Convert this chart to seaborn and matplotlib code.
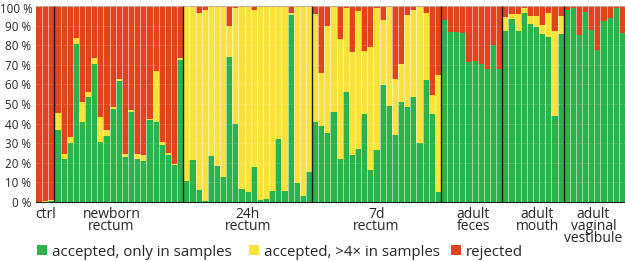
import numpy as np
import pandas as pd
import matplotlib
matplotlib.use("Agg")
import matplotlib.pyplot as plt
from matplotlib.patches import Patch
from matplotlib.transforms import blended_transform_factory, ScaledTranslation
import seaborn as sns

# ---------------- data (percent of reads) ----------------
groups = ["ctrl", "newborn\nrectum", "24h\nrectum", "7d\nrectum",
          "adult\nfeces", "adult\nmouth", "adult\nvaginal\nvestibule"]

ctrl_green = [0, 0, 0.3]
ctrl_yellow = [0, 0.5, 0.5]

newborn_green = [36.9, 21.7, 30.2, 80.7, 40.7, 53.6, 70.5, 30.5, 33.9, 47.5, 61.7,
                 23.1, 46.1, 22.0, 21.0, 41.7, 40.8, 29.3, 24.2, 18.8, 72.2]
newborn_yellow = [8.5, 2.7, 2.8, 3.0, 10.1, 2.5, 2.9, 12.9, 2.7, 1.0, 1.0,
                  1.3, 0.7, 2.4, 2.9, 0.8, 26.0, 1.4, 0.6, 0.7, 1.4]

h24_green = [10.7, 21.4, 6.1, 0.5, 23.7, 18.3, 12.9, 74.2, 40.0, 6.4, 5.1,
             18.0, 1.0, 1.7, 5.4, 32.2, 5.4, 95.6, 9.8, 3.0, 15.3]
h24_yellow = [89.3, 78.3, 90.5, 97.5, 75.6, 81.0, 86.8, 15.6, 59.0, 93.3, 94.6,
              80.0, 98.7, 97.6, 94.3, 67.5, 94.3, 1.0, 89.9, 96.7, 84.4]

d7_green = [40.7, 39.0, 35.0, 45.8, 22.0, 56.0, 24.1, 26.8, 45.1, 16.3, 26.4,
            59.7, 48.8, 34.2, 51.2, 48.5, 53.6, 30.2, 62.0, 45.1, 5.3]
d7_yellow = [55.3, 26.8, 54.8, 53.5, 61.4, 43.0, 52.2, 70.5, 31.9, 63.0, 72.6,
             33.2, 50.5, 28.8, 19.0, 46.8, 44.4, 69.5, 34.3, 9.3, 59.3]

feces_green = [92.7, 86.6, 86.9, 86.3, 71.4, 71.7, 70.4, 68.0, 79.9, 68.0]
feces_yellow = [0, 0, 0, 0, 0, 0, 0, 0, 0, 0]

mouth_green = [87.5, 93.2, 87.5, 96.3, 90.8, 89.2, 85.8, 84.0, 44.0, 85.8]
mouth_yellow = [7.1, 2.8, 8.5, 2.7, 4.2, 5.8, 4.7, 12.6, 43.1, 9.2]

vagina_green = [98.0, 99.0, 85.4, 97.0, 87.8, 77.6, 92.5, 93.9, 99.0, 86.4]
vagina_yellow = [0, 0, 0, 0, 0, 0, 0, 0, 0, 0]

legend_labels = ["accepted, only in samples", "accepted, >4× in samples", "rejected"]

GREEN = "#2bb34b"
YELLOW = "#f9e23c"
RED = "#e2431c"

# ---------------- table ----------------
greens = [ctrl_green, newborn_green, h24_green, d7_green, feces_green, mouth_green, vagina_green]
yellows = [ctrl_yellow, newborn_yellow, h24_yellow, d7_yellow, feces_yellow, mouth_yellow, vagina_yellow]
rows = []
for gi, (g, gl, yl) in enumerate(zip(groups, greens, yellows)):
    for i, (gv, yv) in enumerate(zip(gl, yl)):
        rows.append({"bar": f"{gi}_{i}", "group": g, "green": gv, "yellow": yv,
                     "red": 100 - gv - yv})
df = pd.DataFrame(rows)
df["accepted"] = df["green"] + df["yellow"]
df["total"] = df["accepted"] + df["red"]
order = list(df["bar"])
n = len(order)

# ---------------- figure ----------------
sns.set_theme(style="white")
plt.rcParams["font.family"] = ["Open Sans", "DejaVu Sans"]
plt.rcParams["font.size"] = 9

W, H = 625, 261
fig = plt.figure(figsize=(W / 100, H / 100), dpi=100)
ax = fig.add_axes([36 / W, 1 - 202 / H, 589 / W, 196 / H])

common = dict(data=df, x="bar", order=order, width=1, linewidth=0,
              saturation=1, errorbar=None, ax=ax)
sns.barplot(y="total", color=RED, **common)
sns.barplot(y="accepted", color=YELLOW, **common)
sns.barplot(y="green", color=GREEN, **common)

ax.set_xlim(-0.5, n - 0.5)
ax.set_ylim(0, 100)

# faint grid on top of bars
ax.hlines(np.arange(10, 100, 10), -0.5, n - 0.5, colors="white", alpha=0.35,
          linestyles=(0, (1, 2)), linewidth=0.6, zorder=3)
ax.axhline(100, color="#bbbbbb", linewidth=0.6, zorder=3)

# separators between bars and between groups
sizes = [len(g) for g in greens]
bounds = np.cumsum(sizes)[:-1] - 0.5
inner = [i + 0.5 for i in range(n - 1) if (i + 0.5) not in set(bounds)]
ax.vlines(inner, 0, 100, colors="white", alpha=0.55, linewidth=0.7, zorder=3)
ax.vlines(bounds, 0, 100, colors="#1a1a1a", linewidth=1.0, zorder=4)

# axes styling
ax.set_yticks(np.arange(0, 101, 10))
ax.set_yticklabels([f"{v} %" for v in range(0, 101, 10)], fontsize=8.4)
ax.tick_params(axis="y", length=2.5, width=0.6, pad=1, color="#444444")
top_lab = ax.get_yticklabels()[-1]
top_lab.set_transform(top_lab.get_transform()
                      + ScaledTranslation(0.8 / 72, -1.5 / 72, fig.dpi_scale_trans))
ax.set_xticks([])
ax.set_xlabel("")
ax.set_ylabel("")
for s in ["top", "right", "left"]:
    ax.spines[s].set_visible(False)
ax.spines["bottom"].set_color("#222222")
ax.spines["bottom"].set_linewidth(0.8)

# group labels (small horizontal nudges, in bar widths, as in the original layout)
label_nudge = [0, -1.2, 0, 0, 0.3, 0.7, -0.15]
trans = blended_transform_factory(ax.transData, ax.transAxes)
starts = np.concatenate([[0], np.cumsum(sizes)[:-1]])
for g, s, k, dx in zip(groups, starts, sizes, label_nudge):
    ax.text(s + (k - 1) / 2 + dx, -0.025, g, transform=trans, ha="center", va="top",
            fontsize=10, linespacing=0.72)

# legend: three entries placed like the original
legend_x = [37, 249, 451]
for c, lab, lx in zip((GREEN, YELLOW, RED), legend_labels, legend_x):
    fig.legend([Patch(facecolor=c, edgecolor="none")], [lab], loc="center left",
               bbox_to_anchor=(lx / W, 1 - 252 / H), frameon=False,
               fontsize=10.8, handlelength=0.68, handleheight=0.68,
               handletextpad=0.3, borderpad=0, borderaxespad=0)

fig.savefig("out.png", dpi=100)
